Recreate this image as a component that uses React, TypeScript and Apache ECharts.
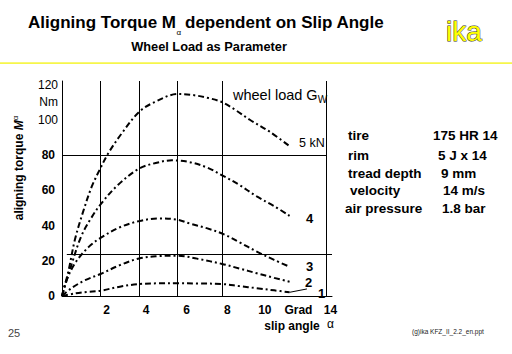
import React, { useEffect, useRef } from 'react';
import * as echarts from 'echarts';

// ---- data ----
const seriesNames = ['5 kN', '4', '3', '2', '1'];

const curve5kN = [[0, 0], [0.33, 14], [0.67, 32], [1.1, 48], [1.54, 62], [1.97, 72], [2.4, 81], [3.1, 92.3], [4, 104.5], [4.8, 110], [6, 114.6], [6.8, 114], [7.6, 112.3], [8.3, 110], [9, 105.5], [9.74, 100], [10.8, 93], [11.8, 85]];
const curve4 = [[0, 0], [0.5, 18], [1, 34], [1.5, 44], [2, 52], [2.9, 63], [4, 72.3], [4.8, 75.3], [5.7, 77], [6.6, 76], [7.5, 73], [8.3, 68.5], [9.2, 63], [10.1, 56.5], [11, 51], [11.8, 45.5]];
const curve3 = [[0, 0], [0.2, 8], [0.7, 19], [1.4, 28], [2, 33], [3, 39], [4, 42.5], [5, 44], [6, 43.3], [6.6, 41.2], [7.5, 38.5], [8.4, 35], [9.2, 30.5], [10.1, 25.2], [11, 20.5], [11.8, 16.6]];
const curve2 = [[0, 0], [0.5, 4.5], [1.2, 9], [2, 12.5], [3, 17.5], [4, 21.3], [5, 22.6], [6, 22.9], [7, 21.2], [8.3, 18.2], [9.2, 15.6], [10.1, 12.9], [11, 10.3], [11.8, 8.1]];
const curve1 = [[0, 0], [0.7, 1.5], [1.3, 2.3], [2, 3], [3, 5.3], [4, 6.8], [5, 7.2], [6, 7.3], [7, 7.1], [8.3, 6.8], [9.2, 5.6], [10.1, 4.4], [11, 3.2], [11.8, 2.1]];
const curve1Leader = [[11.8, 2.1], [12.7, 4]];

const xTickLabels: Record<number, string> = { 2: '2', 4: '4', 6: '6', 8: '8', 10: '10', 12: 'Grad', 14: '14' };
const yTickLabels: Record<number, string> = { 0: '0', 20: '20', 40: '40', 60: '60', 80: '80', 100: '100', 110: 'Nm', 120: '120' };
const yNormalWeightTicks = [100, 110, 120];

const gridXs = [2, 4, 6, 8.3];
const gridYFull = 80;
const gridYPartial = 23.8;
const rightBorderX = 13.72;

const infoLabels = ['tire', 'rim', 'tread depth', 'velocity', 'air pressure'];
const infoValues = ['175 HR 14', '5 J x 14', '9 mm', '14 m/s', '1.8 bar'];

// ---- styles / layout ----
const FONT = 'Liberation Sans, Arial, Helvetica, sans-serif';
const xLabelPad: Record<number, number[]> = {
  2: [0, 0, 0, 12], 4: [0, 0, 0, 14], 6: [0, 0, 0, 18], 8: [0, 0, 0, 22],
  10: [0, 0, 0, 20], 12: [0, 0, 0, 10], 14: [0, 3, 0, 0],
};
const infoLeftX = [348, 348, 348, 350, 345];
const infoRightX = [433, 438, 441, 443, 442];
const infoY = [135, 155, 173, 190, 208];
const curveLabelPos = [[299, 143], [306, 218], [306, 266], [305, 282], [318, 293]];

const dash = [6, 3, 2, 3];

export default function App() {
  const ref = useRef<HTMLDivElement>(null);
  useEffect(() => {
    if (!ref.current) return;
    const chart = echarts.init(ref.current, null, { renderer: 'svg' });

    const xRich: Record<string, any> = {};
    Object.keys(xLabelPad).forEach((k) => {
      xRich['a' + k] = { fontSize: 12, fontWeight: 'bold', fontFamily: FONT, color: '#000', padding: xLabelPad[+k] };
    });

    const curves = [curve5kN, curve4, curve3, curve2, curve1];

    const mlData: any[] = [
      ...gridXs.map((x) => [{ coord: [x, 0] }, { coord: [x, 122] }]),
      [{ coord: [0, gridYFull] }, { coord: [rightBorderX, gridYFull] }],
      [{ coord: [0.25, gridYPartial] }, { coord: [14, gridYPartial] }],
      [{ coord: [rightBorderX, 0] }, { coord: [rightBorderX, 122] }],
    ];

    const series: any[] = curves.map((d, i) => ({
      type: 'line',
      name: seriesNames[i],
      data: d,
      smooth: 0.35,
      showSymbol: false,
      symbol: 'none',
      lineStyle: { color: '#000', width: 2, type: dash },
      z: 3,
      ...(i === 0
        ? {
            markLine: {
              silent: true,
              symbol: ['none', 'none'],
              label: { show: false },
              emphasis: { disabled: true },
              lineStyle: { color: '#000', type: 'solid', width: 1 },
              data: mlData,
              z: 1,
            },
          }
        : {}),
    }));
    series.push({
      type: 'line',
      data: curve1Leader,
      showSymbol: false,
      symbol: 'none',
      lineStyle: { color: '#000', width: 1, type: 'solid' },
    });

    const txt = (x: number, y: number, text: string, extra: any = {}, elExtra: any = {}) => ({
      type: 'text',
      x,
      y,
      ...elExtra,
      style: {
        text,
        fontFamily: FONT,
        fontSize: 12,
        fill: '#000',
        align: 'left',
        verticalAlign: 'middle',
        ...extra,
      },
    });

    const graphic: any[] = [
      { type: 'rect', shape: { x: 0, y: 62.3, width: 512, height: 1.6 }, style: { fill: '#f6f64a' } },
      txt(176, 22, 'Aligning Torque M', { align: 'right', fontSize: 17, fontWeight: 'bold' }),
      txt(176.5, 32, 'α', { fontSize: 8 }),
      txt(185, 22, 'dependent on Slip Angle', { fontSize: 17, fontWeight: 'bold' }),
      txt(209, 46, 'Wheel Load as Parameter', { align: 'center', fontSize: 12.8, fontWeight: 'bold' }),
      txt(464, 31, 'ika', { align: 'center', fontSize: 28, fill: '#ffff00', stroke: '#333', lineWidth: 1 }),
      txt(19, 168, '{a|aligning torque }{m|M}{s|α}', {
        align: 'center',
        rich: {
          a: { fontFamily: FONT, fontSize: 12, fontWeight: 'bold', lineHeight: 16, verticalAlign: 'middle' },
          m: { fontFamily: FONT, fontSize: 12, fontWeight: 'bold', fontStyle: 'italic', lineHeight: 16, verticalAlign: 'middle' },
          s: { fontFamily: FONT, fontSize: 8, lineHeight: 8, verticalAlign: 'top' },
        },
      }, { rotation: Math.PI / 2 }),
      txt(233, 95, '{a|wheel load G}{w|W}', {
        rich: {
          a: { fontFamily: FONT, fontSize: 14.5, lineHeight: 18, verticalAlign: 'middle' },
          w: { fontFamily: FONT, fontSize: 10, lineHeight: 10, verticalAlign: 'bottom' },
        },
      }),
      txt(292, 326, 'slip angle', { align: 'center', fontWeight: 'bold' }),
      txt(327, 324, 'α', { fontSize: 12 }),
      txt(8, 333, '25', { fontSize: 11, fill: '#444' }),
      txt(412, 331, '(g)ika KFZ_II_2.2_en.ppt', { fontSize: 6.5, fill: '#222' }),
    ];
    seriesNames.forEach((n, i) => {
      graphic.push(
        txt(curveLabelPos[i][0], curveLabelPos[i][1], n, i === 0 ? { fontSize: 12.5 } : { fontSize: 13, fontWeight: 'bold' })
      );
    });
    infoLabels.forEach((l, i) => {
      graphic.push(txt(infoLeftX[i], infoY[i], l, { fontSize: 13.5, fontWeight: 'bold' }));
      graphic.push(txt(infoRightX[i], infoY[i], infoValues[i], { fontSize: 13.5, fontWeight: 'bold' }));
    });

    chart.setOption({
      animation: false,
      backgroundColor: '#fff',
      grid: { left: 62, right: 180, top: 81, bottom: 58, containLabel: false },
      xAxis: {
        type: 'value',
        min: 0,
        max: 14,
        interval: 2,
        axisLine: { show: true, onZero: false, lineStyle: { color: '#000', width: 1 } },
        axisTick: { show: false },
        splitLine: { show: false },
        axisLabel: {
          margin: 8,
          fontFamily: FONT,
          fontSize: 12,
          fontWeight: 'bold',
          color: '#000',
          formatter: (v: number) => (xTickLabels[v] ? `{a${v}|${xTickLabels[v]}}` : ''),
          rich: xRich,
        },
      },
      yAxis: {
        type: 'value',
        min: 0,
        max: 122,
        interval: 10,
        axisLine: { show: true, onZero: false, lineStyle: { color: '#000', width: 1 } },
        axisTick: { show: false },
        splitLine: { show: false },
        axisLabel: {
          margin: 4,
          showMaxLabel: false,
          fontFamily: FONT,
          fontSize: 12,
          color: '#000',
          formatter: (v: number) => {
            const s = yTickLabels[v];
            if (!s) return '';
            return yNormalWeightTicks.includes(v) ? `{n|${s}}` : `{b|${s}}`;
          },
          rich: {
            n: { fontFamily: FONT, fontSize: 12, color: '#000' },
            b: { fontFamily: FONT, fontSize: 12, fontWeight: 'bold', color: '#000', padding: [0, 3, 0, 0] },
          },
        },
      },
      series,
      graphic,
    });
    return () => chart.dispose();
  }, []);
  return <div ref={ref} style={{ position: 'absolute', left: 0, top: 0, width: 512, height: 354, background: '#fff' }} />;
}
